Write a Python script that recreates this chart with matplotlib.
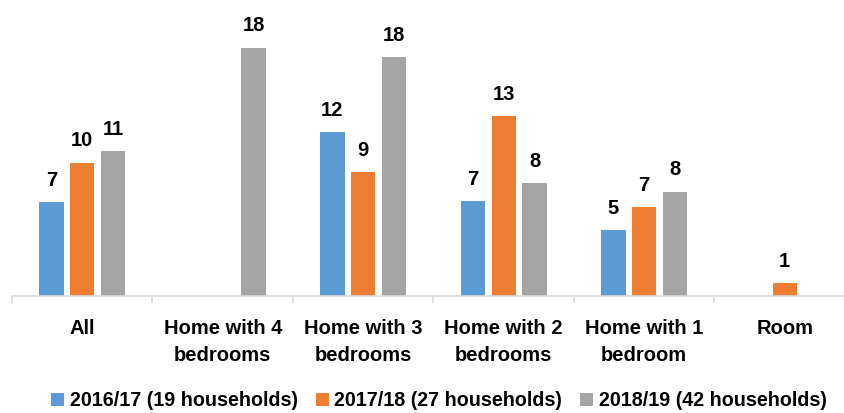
import numpy as np
import matplotlib
matplotlib.use("Agg")
import matplotlib.pyplot as plt
from matplotlib.patches import Patch

plt.rcParams['font.family'] = ['Liberation Sans', 'DejaVu Sans']
plt.rcParams['font.weight'] = 'bold'

categories = ["All", "Home with 4\nbedrooms", "Home with 3\nbedrooms",
              "Home with 2\nbedrooms", "Home with 1\nbedroom", "Room"]
series_names = ["2016/17 (19 households)", "2017/18 (27 households)", "2018/19 (42 households)"]
v2016 = [6.93, np.nan, 12.10, 7.02, 4.88, np.nan]
v2017 = [9.85, np.nan, 9.16, 13.28, 6.58, 0.94]
v2018 = [10.72, 18.35, 17.64, 8.35, 7.71, np.nan]
colors = ["#5B9BD5", "#ED7D31", "#A5A5A5"]

W, H = 845, 413
fig = plt.figure(figsize=(W / 100, H / 100), dpi=100)
ax = fig.add_axes([12 / W, (H - 296) / H, 843 / W, 270.6 / H])

x = np.arange(len(categories))
offsets = [-0.22, 0.0, 0.22]
bw = 0.174
for vals, off, c in zip([v2016, v2017, v2018], offsets, colors):
    vals = np.array(vals, dtype=float)
    ax.bar(x + off, np.nan_to_num(vals), width=bw, color=c, zorder=2)
    for xi, v in zip(x, vals):
        if np.isnan(v):
            continue
        ax.annotate(f"{v:.0f}", (xi + off, v), xytext=(0, 11.8), textcoords="offset points",
                    ha="center", va="baseline", fontsize=14.5, fontweight="bold",
                    color="black", annotation_clip=False)

ax.set_xlim(-0.5, 5.5)
ax.set_ylim(0, 20)
ax.set_yticks([])
for s in ["left", "right", "top"]:
    ax.spines[s].set_visible(False)
ax.spines["bottom"].set_color("#D9D9D9")
ax.spines["bottom"].set_linewidth(1.2)

ax.set_xticks(x)
ax.set_xticklabels(categories, fontsize=14.5, fontweight="bold", linespacing=1.55)
ax.tick_params(axis="x", which="major", length=0, pad=16.5)
ax.set_xticks(np.arange(-0.5, 6.0, 1.0), minor=True)
ax.tick_params(axis="x", which="minor", length=5, color="#D9D9D9", width=1.2)

handles = [Patch(facecolor=c, edgecolor="none") for c in colors]
fig.legend(handles, series_names, loc="center", bbox_to_anchor=(0.5195, 0.03), ncol=3,
           frameon=False, prop={"size": 14.2, "weight": "bold"}, handlelength=0.65,
           handleheight=0.65, handletextpad=0.3, columnspacing=0.9, borderpad=0)

fig.savefig("out.png", dpi=100)
